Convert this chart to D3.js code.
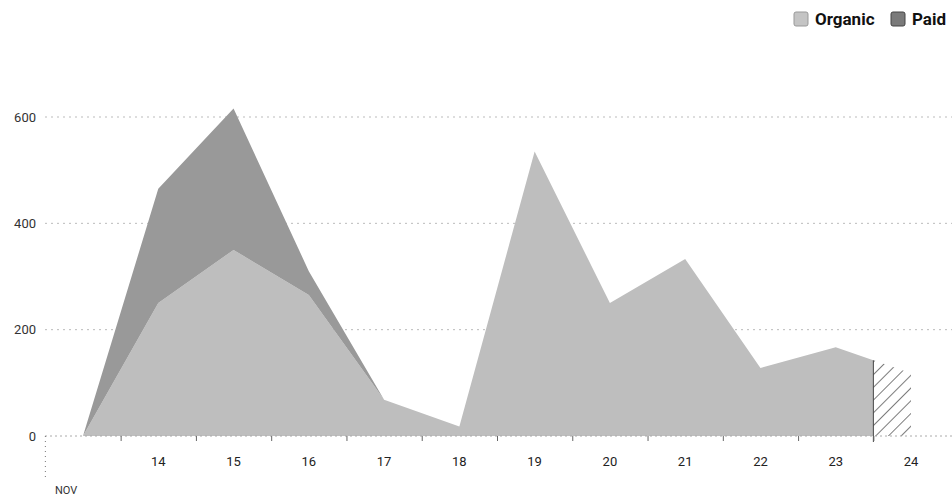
<!DOCTYPE html>
<html>
<head>
<meta charset="utf-8">
<script src="https://cdn.jsdelivr.net/npm/d3@7"></script>
<style>
  body { margin: 0; background: #fff; }
  svg { display: block; font-family: Roboto, "Liberation Sans", sans-serif; }
</style>
</head>
<body>
<script>
// chart data (Nov, daily)
const days = [13, 14, 15, 16, 17, 18, 19, 20, 21, 22, 23, 24];
const organic = [0, 250, 350, 265, 68, 18, 535, 250, 333, 128, 167, 118];
const paid = [0, 215, 266, 45, 0, 0, 0, 0, 0, 0, 0, 0];
const dayLabels = ["14", "15", "16", "17", "18", "19", "20", "21", "22", "23", "24"];
const yTicks = [0, 200, 400, 600];
const series = ["Organic", "Paid"];
const monthLabel = "NOV";
const partialFrom = 23.5; // last period is incomplete, drawn hatched

const width = 952, height = 497;
const colors = { Organic: "#bebebe", Paid: "#999999" };

const svg = d3.select("body").append("svg")
  .attr("width", width)
  .attr("height", height);

const x = d3.scaleLinear().domain([13, 24]).range([83, 911]);
const y = d3.scaleLinear().domain([0, 600]).range([436, 117]);

//stack organic below paid
const rows = days.map((d, i) => ({ day: d, Organic: organic[i], Paid: paid[i] }));
const stacked = d3.stack().keys(series)(rows);

//hatch pattern for the incomplete period
const defs = svg.append("defs");
const pat = defs.append("pattern")
  .attr("id", "hatch")
  .attr("patternUnits", "userSpaceOnUse")
  .attr("width", 9)
  .attr("height", 9)
  .attr("patternTransform", "rotate(45)");
pat.append("rect").attr("width", 9).attr("height", 9).attr("fill", "#fff");
pat.append("line")
  .attr("x1", 0).attr("y1", 0).attr("x2", 0).attr("y2", 9)
  .attr("stroke", "#444").attr("stroke-width", 1.4);

defs.append("clipPath").attr("id", "done")
  .append("rect")
  .attr("x", 0).attr("y", 0)
  .attr("width", x(partialFrom)).attr("height", height);
defs.append("clipPath").attr("id", "partial")
  .append("rect")
  .attr("x", x(partialFrom)).attr("y", 0)
  .attr("width", width - x(partialFrom)).attr("height", height);

//gridlines
svg.append("g")
  .selectAll("line")
  .data(yTicks.filter(t => t > 0))
  .join("line")
  .attr("x1", 45).attr("x2", width)
  .attr("y1", d => y(d)).attr("y2", d => y(d))
  .attr("stroke", "#bbb")
  .attr("stroke-dasharray", "2,4");

//y labels
svg.append("g")
  .selectAll("text")
  .data(yTicks)
  .join("text")
  .attr("x", 36)
  .attr("y", d => y(d))
  .attr("dy", "0.35em")
  .attr("text-anchor", "end")
  .attr("font-size", 13)
  .attr("fill", "#333")
  .text(d => d);

//areas
const area = d3.area()
  .x(d => x(d.data.day))
  .y0(d => y(d[0]))
  .y1(d => y(d[1]));

svg.append("g")
  .attr("clip-path", "url(#done)")
  .selectAll("path")
  .data(stacked)
  .join("path")
  .attr("d", area)
  .attr("fill", d => colors[d.key]);

//hatched partial period
const total = d3.area()
  .x(d => x(d.day))
  .y0(y(0))
  .y1(d => y(d.Organic + d.Paid));

svg.append("path")
  .datum(rows)
  .attr("clip-path", "url(#partial)")
  .attr("d", total)
  .attr("fill", "url(#hatch)");

const last = rows[rows.length - 1], prev = rows[rows.length - 2];
const midVal = ((last.Organic + last.Paid) + (prev.Organic + prev.Paid)) / 2;
svg.append("line")
  .attr("x1", x(partialFrom)).attr("x2", x(partialFrom))
  .attr("y1", y(midVal)).attr("y2", y(0) + 6)
  .attr("stroke", "#444");

//baseline
svg.append("line")
  .attr("x1", 45).attr("x2", width)
  .attr("y1", y(0)).attr("y2", y(0))
  .attr("stroke", "#aaa")
  .attr("stroke-dasharray", "2,3");

//x axis: ticks at day boundaries, labels at day centres
const xAxis = d3.axisBottom(x)
  .tickValues(d3.range(13.5, 24, 1))
  .tickSize(5)
  .tickFormat("");
svg.append("g")
  .attr("transform", `translate(0,${y(0)})`)
  .call(xAxis)
  .call(g => g.select(".domain").remove())
  .call(g => g.selectAll(".tick line").attr("stroke", "#666"));

svg.append("line")
  .attr("x1", x(12.5)).attr("x2", x(12.5))
  .attr("y1", y(0)).attr("y2", y(0) + 44)
  .attr("stroke", "#777")
  .attr("stroke-dasharray", "1,4");

svg.append("g")
  .selectAll("text")
  .data(dayLabels)
  .join("text")
  .attr("x", d => x(+d))
  .attr("y", 466)
  .attr("text-anchor", "middle")
  .attr("font-size", 13)
  .attr("fill", "#222")
  .text(d => d);

svg.append("text")
  .attr("x", 55)
  .attr("y", 494)
  .attr("font-size", 11)
  .attr("fill", "#333")
  .text(monthLabel);

//legend
const legend = svg.append("g").attr("transform", "translate(794,12)");
const legendX = [0, 97];
const swatch = { Organic: "#c4c4c4", Paid: "#7a7a7a" };
series.forEach((s, i) => {
  const g = legend.append("g").attr("transform", `translate(${legendX[i]},0)`);
  g.append("rect")
    .attr("width", 14).attr("height", 14)
    .attr("rx", 2)
    .attr("fill", swatch[s])
    .attr("stroke", i ? "#444" : "#999");
  g.append("text")
    .attr("x", 21)
    .attr("y", 7)
    .attr("dy", "0.35em")
    .attr("font-size", 17)
    .attr("font-weight", 700)
    .attr("fill", "#111")
    .text(s);
});
</script>
</body>
</html>
